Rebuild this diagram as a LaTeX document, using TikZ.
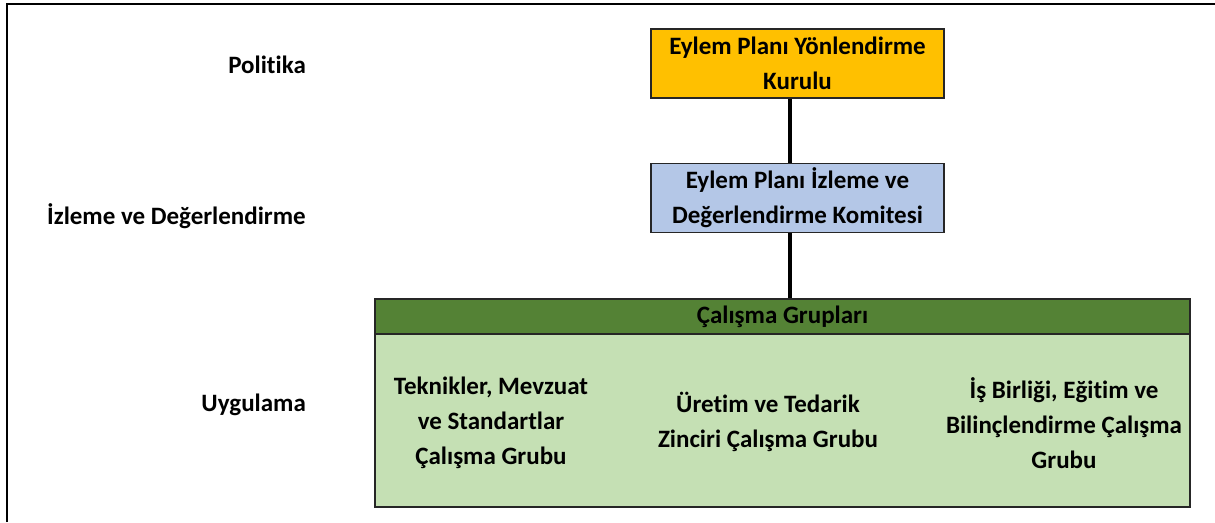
\documentclass[tikz,border=0pt]{standalone}
\usepackage{fontspec}
\setmainfont{Carlito}[Ligatures={NoCommon}]
\definecolor{orangebox}{HTML}{FFC000}
\definecolor{bluebox}{HTML}{B4C7E7}
\definecolor{darkgreen}{HTML}{548235}
\definecolor{lightgreen}{HTML}{C5E0B4}
\definecolor{edgegray}{HTML}{262626}
\begin{document}
\begin{tikzpicture}[x=1pt,y=-1pt,
  txt/.style={font=\fontsize{25}{35}\selectfont\bfseries, align=center, inner sep=0pt},
  box/.style={txt, draw=edgegray, line width=1.5pt, minimum width=293pt, minimum height=69pt},
  lbl/.style={font=\fontsize{25}{35}\selectfont\bfseries, anchor=east, inner sep=0pt},
  link/.style={line width=3.5pt, black}]
\useasboundingbox (0,0) rectangle (1215,522);
\fill[white] (0,0) rectangle (1215,522);
\draw[line width=2pt, black] (7,522) -- (7,4) -- (1215,4);
% left labels
\node[lbl] (pol) at (306,65) {Politika};
\node[lbl] (izl) at (306,216) {İzleme ve Değerlendirme};
\node[lbl] (uyg) at (306,405) {Uygulama};
% boxes
\node[box, fill=orangebox] (kur) at (797.5,63.5) {Eylem Planı Yönlendirme\\Kurulu};
\node[box, fill=bluebox] (kom) at (797.5,198) {Eylem Planı İzleme ve\\Değerlendirme Komitesi};
\node[txt, draw=edgegray, line width=1.5pt, fill=lightgreen, minimum width=815pt, minimum height=173pt] (body) at (782.5,420.5) {};
\node[txt, draw=edgegray, line width=1.5pt, fill=darkgreen, minimum width=815pt, minimum height=35pt] (head) at (782.5,316.5) {Çalışma Grupları};
\node[txt] (g1) at (491,423) {Teknikler, Mevzuat\\ve Standartlar\\Çalışma Grubu};
\node[txt] (g2) at (768,422) {Üretim ve Tedarik\\Zinciri Çalışma Grubu};
\node[txt] (g3) at (1064,423) {İş Birliği, Eğitim ve\\Bilinçlendirme Çalışma\\Grubu};
% connectors
\coordinate (cx) at (790,0);
\draw[link] (kur.south -| cx) -- (kom.north -| cx);
\draw[link] (kom.south -| cx) -- (head.north -| cx);
\end{tikzpicture}
\end{document}
